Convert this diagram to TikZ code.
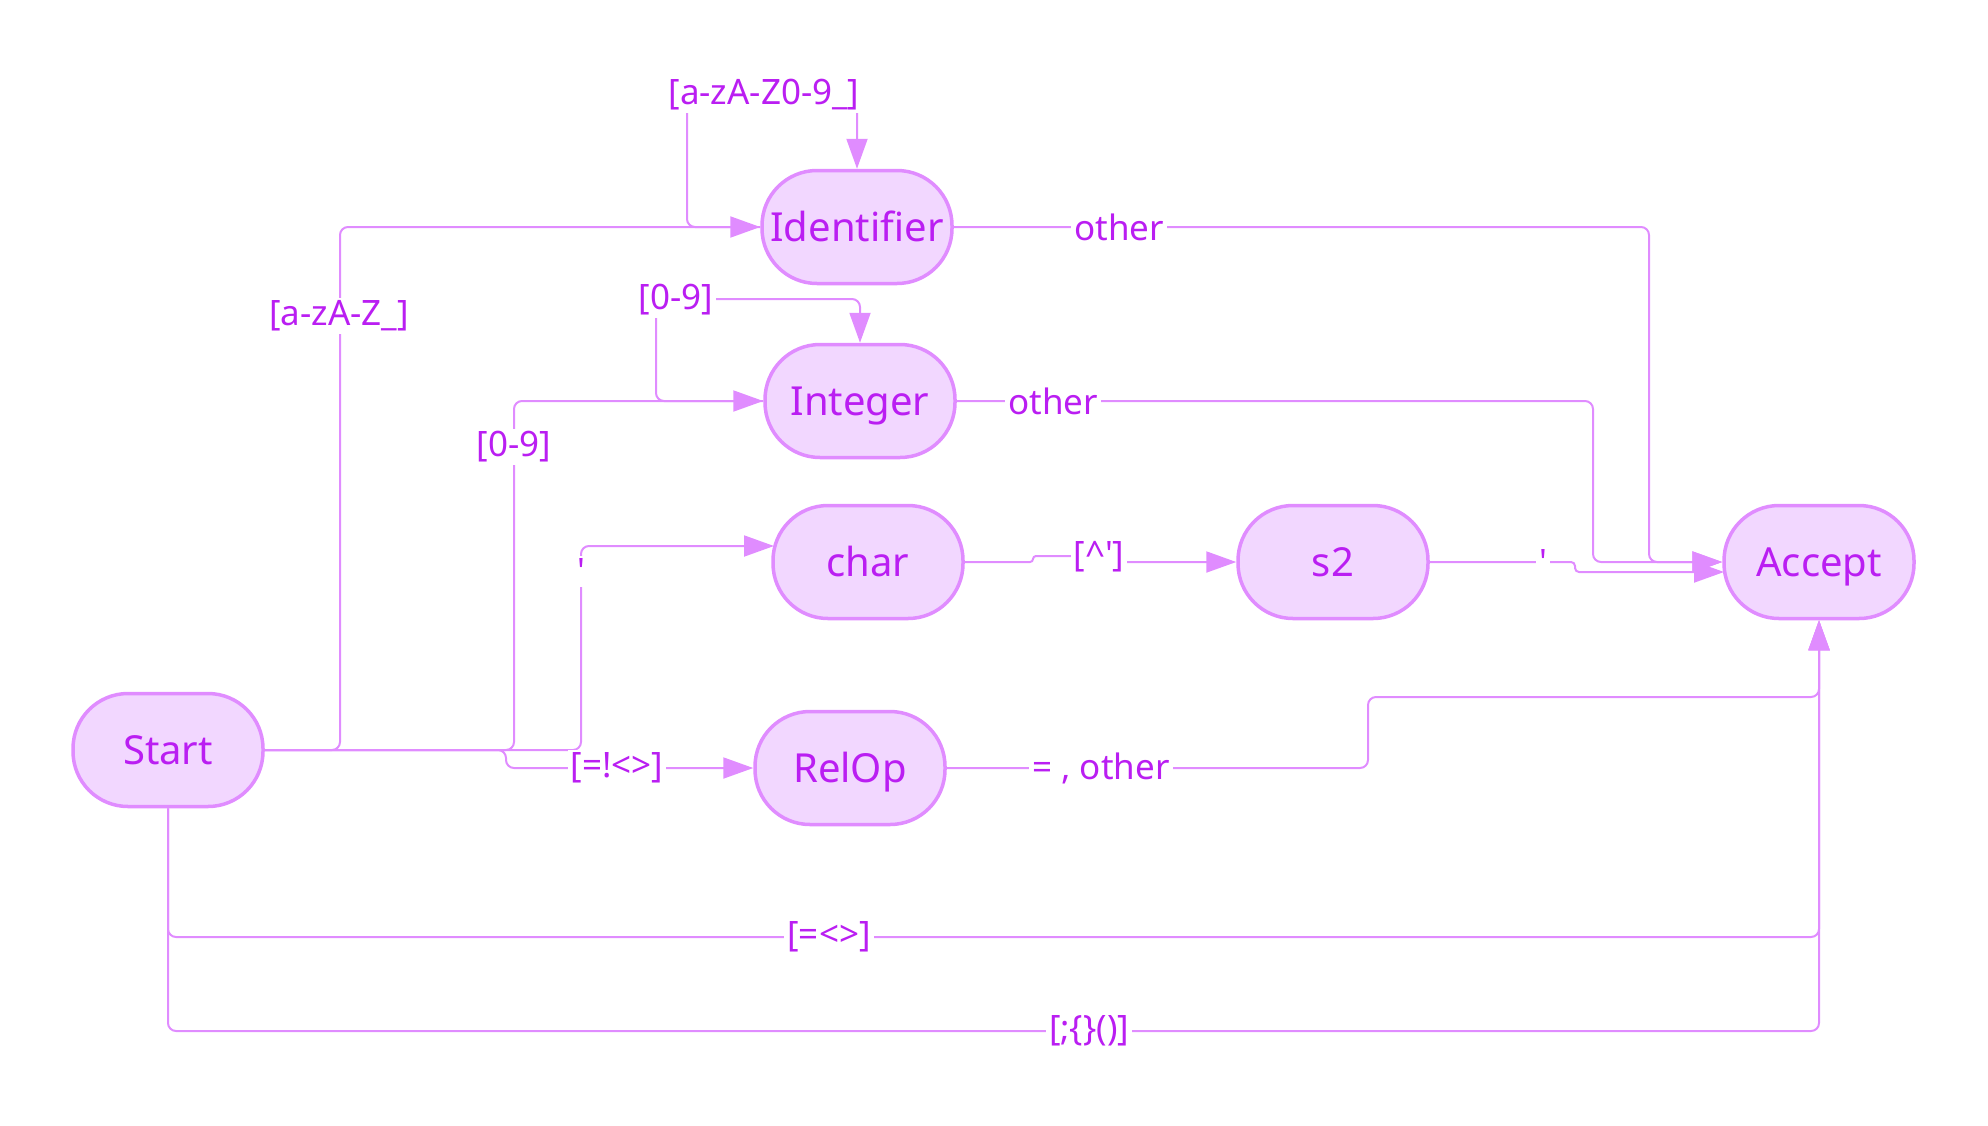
\documentclass[tikz,border=0pt]{standalone}
\usepackage{fontspec}
\newfontfamily\nsans{Noto Sans}[Ligatures=TeXOff]
\usetikzlibrary{arrows.meta}
\definecolor{edgec}{HTML}{E08CFF}
\definecolor{fillc}{HTML}{F2D7FF}
\definecolor{textc}{HTML}{BA1EF2}
\begin{document}
\begin{tikzpicture}[x=1pt,y=-1pt,
  state/.style={draw=edgec, line width=3.5pt, fill=fillc, rectangle, rounded corners=55pt,
    minimum width=190pt, minimum height=113pt, text=textc, inner sep=0pt,
    text height=28.6pt, text depth=0pt, font=\nsans\fontsize{40}{48}\selectfont},
  lbl/.style={fill=white, text=textc, inner sep=3pt, font=\nsans\fontsize{35}{42}\selectfont},
  conn/.style={draw=edgec, line width=2pt, rounded corners=8pt},
  connarr/.style={conn, -{Triangle[length=30pt,width=21pt]}}
]
\useasboundingbox (0,0) rectangle (1988,1125);

% states
\node[state] (Start) at (168,750) {Start};
\node[state] (Identifier) at (857,227) {Identifier};
\node[state] (Integer) at (860,401) {Integer};
\node[state] (char) at (868,562) {char};
\node[state] (s2) at (1333,562) {s2};
\node[state] (Accept) at (1819,562) {Accept};
\node[state] (RelOp) at (850,768) {RelOp};

% helper coordinates
\coordinate (charIn) at (774,546);
\coordinate (accIn2) at (1724,572);
\coordinate (pEq) at (829,937);
\coordinate (pPun) at (1089,1031);

% connectors
\draw[connarr] (Start.east) -- (340,750) -- (340,227) -- (Identifier.west);
\draw[connarr] (Start.east) -- (514,750) -- (514,401) -- (Integer.west);
\draw[connarr] (Start.east) -- (581,750) -- (581,546) -- (charIn);
\draw[connarr] (Start.east) -- (506,750) -- (506,768) -- (RelOp.west);

\draw[connarr] (Identifier.west) -- (687,227) -- (687,95) -- (857,95) -- (Identifier.north);
\draw[connarr] (Integer.west) -- (656,401) -- (656,299) -- (860,299) -- (Integer.north);

\draw[connarr] (Identifier.east) -- (1649,227) -- (1649,562) -- (Accept.west);
\draw[connarr] (Integer.east) -- (1593,401) -- (1593,562) -- (Accept.west);
\draw[connarr, rounded corners=3pt] (char.east) -- (1033,562) -- (1033,556) -- (1100,556) -- (1100,562) -- (s2.west);
\draw[connarr, rounded corners=4pt] (s2.east) -- (1575,562) -- (1575,572) -- (accIn2);
\draw[connarr] (RelOp.east) -- (1368,768) -- (1368,697) -| (Accept.south);
\draw[connarr] (Start.south) |- (pEq) -| (Accept.south);
\draw[connarr] (Start.south) |- (pPun) -| (Accept.south);

% labels
\node[lbl] (Lid) at (764,95) {[a-zA-Z0-9\_]};
\node[lbl] (Laz) at (339,316) {[a-zA-Z\_]};
\node[lbl] (Lint1) at (676,300) {[0-9]};
\node[lbl] (Lint2) at (514,447) {[0-9]};
\node[lbl] (Lother1) at (1119,227) {other};
\node[lbl] (Lother2) at (1053,401) {other};
\node[lbl] (Lq1) at (581,571) {'};
\node[lbl] (Lrel) at (617,768) {[=!<>]};
\node[lbl] (Lneg) at (1099,557) {[\textasciicircum']};
\node[lbl] (Lq2) at (1543,562) {'};
\node[lbl] (Lrelo) at (1101,768) {= , other};
\node[lbl] (Leq) at (pEq) {[=<>]};
\node[lbl] (Lpun) at (pPun) {[;\{\}()]};
\end{tikzpicture}
\end{document}
